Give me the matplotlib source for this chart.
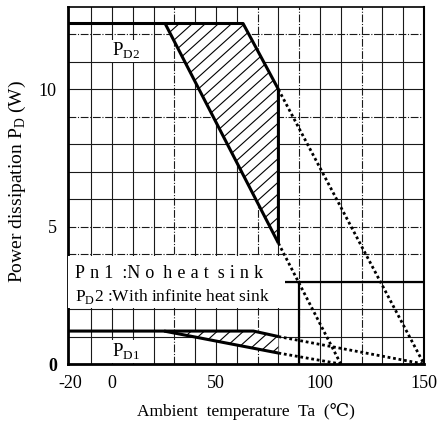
#!/bin/python

# Power dissipation derating curve (PD1 / PD2 vs ambient temperature)

import numpy as np
import matplotlib
matplotlib.use('Agg')
import matplotlib.pyplot as plt
from matplotlib.patches import Polygon, Rectangle

plt.rcParams['font.family'] = ['Liberation Serif', 'DejaVu Serif']
plt.rcParams['mathtext.fontset'] = 'custom'
plt.rcParams['mathtext.rm'] = 'Liberation Serif'

########
# DATA #
########

# PD2 (with infinite heat sink) - solid part and dotted extension
pd2_outer_ta = [-21.2, 25.5, 80]
pd2_outer_p = [12.4, 12.4, 4.4]
pd2_outer_dot_ta = [80, 110]
pd2_outer_dot_p = [4.4, 0]
pd2_inner_ta = [25.5, 63, 80, 80]
pd2_inner_p = [12.4, 12.4, 10.0, 4.4]
pd2_inner_dot_ta = [80, 150]
pd2_inner_dot_p = [10.0, 0]

# PD1 (no heat sink)
pd1_upper_ta = [-21.2, 68, 80]
pd1_upper_p = [1.2, 1.2, 1.0]
pd1_upper_dot_ta = [80, 150]
pd1_upper_dot_p = [1.0, 0]
pd1_lower_ta = [25, 80]
pd1_lower_p = [1.2, 0.4]
pd1_lower_dot_ta = [80, 110]
pd1_lower_dot_p = [0.4, 0]

# hatched areas
pd2_hatch_ta = [25.5, 63, 80, 80]
pd2_hatch_p = [12.4, 12.4, 10.0, 4.4]
pd1_hatch_ta = [25, 68, 80, 80]
pd1_hatch_p = [1.2, 1.2, 1.0, 0.4]

# grid
grid_ta = [-10, 0, 10, 20, 30, 40, 50, 60, 70, 80, 90, 100, 110, 120, 130, 140]
grid_ta_style = ['-', '-', '-', '-', 'b', '-', '-', '-', 'b', '-', 'b', '-', '-', 'b', '-', '-']
grid_p = [1, 2, 3, 4, 5, 6, 7, 8, 9, 10, 11, 12]
grid_p_style = ['-', '-', '-', 'b', 'b', '-', '-', '-', 'b', '-', '-', 'b']

xtick_pos = [-20, 0, 50, 100, 150]
xtick_lab = ['-20', '0', '50', '100', '150']
ytick_pos = [0, 5, 10]
ytick_lab = ['0', '5', '10']

############
# PLOTTING #
############

fig = plt.figure(figsize=(4.4, 4.26), dpi=100)
ax = fig.add_axes([0.1545, 0.1455, 0.8091, 0.838])
ax.set_xlim(-21.2, 150)
ax.set_ylim(0, 13)

# 'b' = broken (scanned) line
broken = (0, (7, 1.5, 1, 1.5))
for t, ls in zip(grid_ta, grid_ta_style):
    ax.axvline(t, color='#1a1a1a', lw=0.8, ls=broken if ls == 'b' else ls, zorder=1)
for p, ls in zip(grid_p, grid_p_style):
    ax.axhline(p, color='#1a1a1a', lw=0.8, ls=broken if ls == 'b' else ls, zorder=1)

# heavier grid fragments in the lower right
ax.plot([83, 150], [3, 3], color='k', lw=1.6, zorder=2)
ax.plot([90, 90], [0, 3], color='k', lw=1.6, zorder=2)

# hatched regions: white fill + hand-drawn diagonal lines clipped to the area
# slope of a ~42 degree line in data units (px per degC / px per W)
k = (356 / 171.2) / (357 / 13.0) * 0.9
hatch_step = 6.3
for hta, hp in [(pd2_hatch_ta, pd2_hatch_p), (pd1_hatch_ta, pd1_hatch_p)]:
    poly = Polygon(list(zip(hta, hp)), closed=True, facecolor='white', edgecolor='none', zorder=3)
    ax.add_patch(poly)
    xs = np.array([-30, 160])
    for c in np.arange(-200, 160, hatch_step):
        ln, = ax.plot(xs, (xs - c) * k, color='k', lw=0.8, zorder=3.5)
        ln.set_clip_path(poly)

# curves
ax.plot(pd2_outer_ta, pd2_outer_p, color='k', lw=2.2, zorder=5, solid_capstyle='butt')
ax.plot(pd2_inner_ta, pd2_inner_p, color='k', lw=2.2, zorder=5, solid_capstyle='butt')
ax.plot(pd2_outer_dot_ta, pd2_outer_dot_p, color='k', lw=2, ls=(0, (1, 1)), zorder=5)
ax.plot(pd2_inner_dot_ta, pd2_inner_dot_p, color='k', lw=2, ls=(0, (1, 1)), zorder=5)

ax.plot(pd1_upper_ta, pd1_upper_p, color='k', lw=2.2, zorder=5, solid_capstyle='butt')
ax.plot(pd1_lower_ta, pd1_lower_p, color='k', lw=2.2, zorder=5, solid_capstyle='butt')
ax.plot(pd1_upper_dot_ta, pd1_upper_dot_p, color='k', lw=2, ls=(0, (1, 1)), zorder=5)
ax.plot(pd1_lower_dot_ta, pd1_lower_dot_p, color='k', lw=2, ls=(0, (1, 1)), zorder=5)

# legend box
ts = '\u2009\u200a'
ax.add_patch(Rectangle((-21.2, 2.05), 104.5, 1.9, facecolor='white', edgecolor='none', zorder=4))
ax.text(-18, 3.3, ts.join('Pn1') + '  :' + ts.join('No') + '  ' + ts.join('heat') + '  ' + ts.join('sink'),
        fontsize=13, va='center', ha='left', zorder=6)
ax.text(-18, 2.45, r'P$_\mathrm{D}$2 :With infinite heat sink', fontsize=12.5, va='center', ha='left', zorder=6)

# curve labels
ax.text(0, 11.4, r'P$_\mathrm{D2}$', fontsize=13.5, va='center', ha='left', zorder=6,
        bbox=dict(facecolor='white', edgecolor='none', pad=1))
ax.text(0, 0.45, r'P$_\mathrm{D1}$', fontsize=13.5, va='center', ha='left', zorder=6,
        bbox=dict(facecolor='white', edgecolor='none', pad=1))

# axes
ax.spines['left'].set_linewidth(2)
ax.spines['bottom'].set_linewidth(2)
ax.spines['top'].set_linewidth(1.2)
ax.spines['right'].set_linewidth(1.5)
ax.tick_params(length=0, labelsize=13, pad=8)
ax.set_xticks(xtick_pos)
ax.set_xticklabels(xtick_lab)
ax.set_yticks(ytick_pos)
ax.set_yticklabels(ytick_lab)
ax.get_yticklabels()[0].set_fontweight('bold')

ax.set_xlabel('Ambient  temperature  Ta  (\u2103)', fontsize=12.5, labelpad=8)
ax.set_ylabel(r'Power dissipation P$_\mathrm{D}$ (W)', fontsize=14, labelpad=8)
ax.yaxis.set_label_coords(-0.112, 0.51)

plt.savefig('out.png', dpi=100)
plt.close()
